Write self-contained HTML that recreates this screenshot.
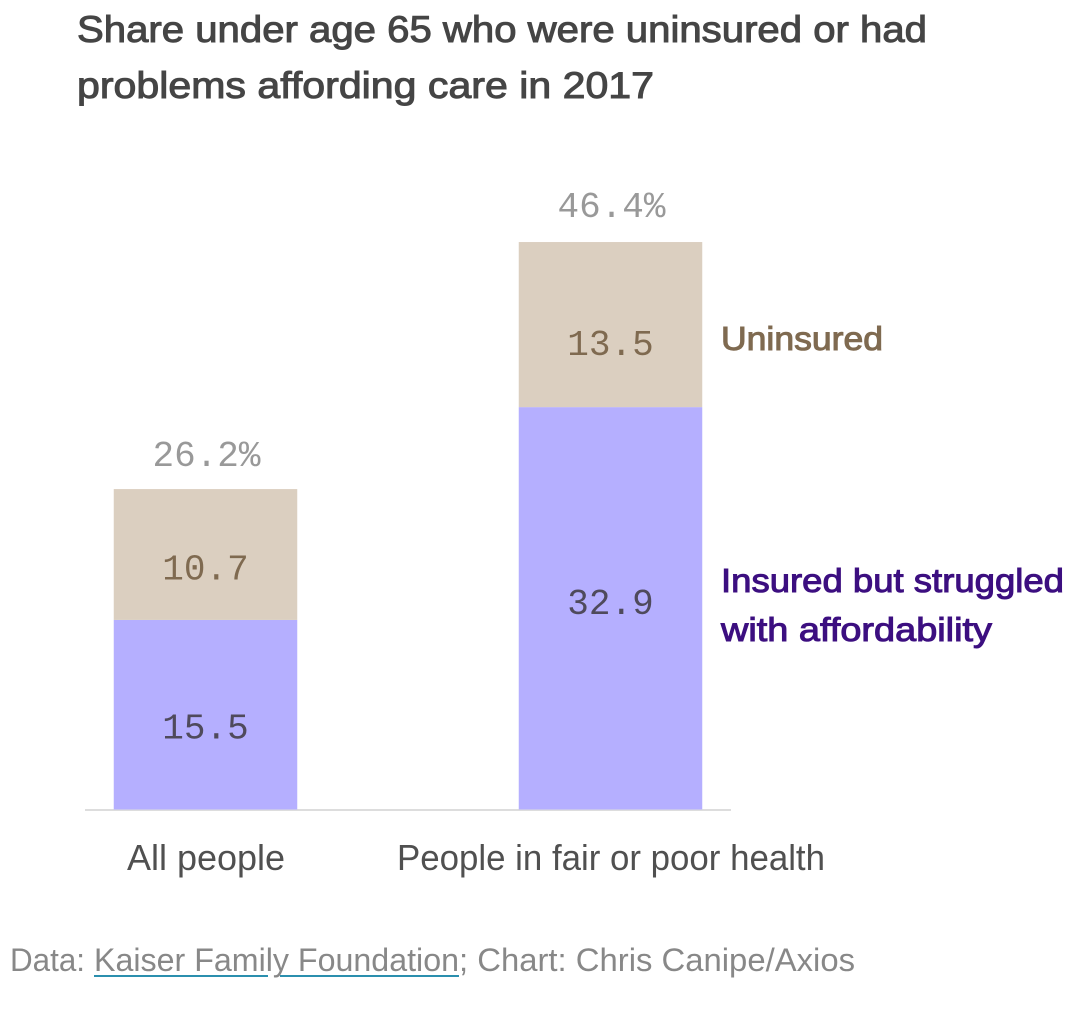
<!DOCTYPE html>
<html>
<head>
<meta charset="utf-8">
<style>
html,body{margin:0;padding:0;background:#fff;width:1084px;height:1013px;overflow:hidden}
svg{display:block}
.sans{font-family:"Liberation Sans",sans-serif}
.mono{font-family:"Liberation Mono",monospace;font-size:36px}
</style>
</head>
<body>
<svg id="chart" width="1084" height="1013" viewBox="0 0 1084 1013" xmlns="http://www.w3.org/2000/svg">
  <g class="sans" font-size="37" fill="#454545" stroke="#454545" stroke-width="1">
    <text x="77" y="42" textLength="850" lengthAdjust="spacingAndGlyphs">Share under age 65 who were uninsured or had</text>
    <text x="77" y="98" textLength="577" lengthAdjust="spacingAndGlyphs">problems affording care in 2017</text>
  </g>
  <line x1="85" x2="731" y1="810" y2="810" stroke="#dddddd" stroke-width="2"/>
  <g id="bars"></g>
  <g id="labels"></g>
  <text class="sans" x="721" y="350" font-size="33" fill="#7f6a50" stroke="#7f6a50" stroke-width="1" textLength="162" lengthAdjust="spacingAndGlyphs">Uninsured</text>
  <g class="sans" font-size="33" fill="#3c0f80" stroke="#3c0f80" stroke-width="1">
    <text x="721" y="592" textLength="343" lengthAdjust="spacingAndGlyphs">Insured but struggled</text>
    <text x="721" y="641" textLength="271" lengthAdjust="spacingAndGlyphs">with affordability</text>
  </g>
  <g class="sans" font-size="32" fill="#888888">
    <text x="10" y="971" textLength="75" lengthAdjust="spacingAndGlyphs">Data:</text>
    <text x="94" y="971" textLength="365" lengthAdjust="spacingAndGlyphs">Kaiser Family Foundation</text>
    <text x="459" y="971" textLength="396" lengthAdjust="spacingAndGlyphs">; Chart: Chris Canipe/Axios</text>
  </g>
  <g stroke="#2b8fae" stroke-width="2">
    <line x1="94" x2="268" y1="976" y2="976"/>
    <line x1="280" x2="459" y1="976" y2="976"/>
  </g>
</svg>
<script>
const categories = ["All people", "People in fair or poor health"];
const insuredValues = [15.5, 32.9];
const uninsuredValues = [10.7, 13.5];
const totalLabels = ["26.2%", "46.4%"];

const NS = "http://www.w3.org/2000/svg";
const baselineY = 809.5;
const pxPerUnit = 12.23;
const yScale = v => baselineY - v * pxPerUnit;
const xCenter = i => 205.5 + i * 405;
const barWidth = 183.5;
const barsGroup = document.getElementById("bars");
const labelsGroup = document.getElementById("labels");

function addRect(x, y, w, h, fill) {
  const r = document.createElementNS(NS, "rect");
  r.setAttribute("x", x);
  r.setAttribute("y", y);
  r.setAttribute("width", w);
  r.setAttribute("height", h);
  r.setAttribute("fill", fill);
  barsGroup.appendChild(r);
  return r;
}
function addText(parent, x, y, str, fill, cls, size) {
  const t = document.createElementNS(NS, "text");
  t.setAttribute("x", x);
  t.setAttribute("y", y);
  t.setAttribute("text-anchor", "middle");
  t.setAttribute("fill", fill);
  t.setAttribute("class", cls);
  if (size) t.setAttribute("font-size", size);
  t.textContent = str;
  parent.appendChild(t);
  return t;
}

categories.forEach((c, i) => {
  const cx = xCenter(i);
  const x0 = cx - barWidth / 2;
  const a = insuredValues[i];
  const b = uninsuredValues[i];
  const yA = yScale(a);
  const yB = yScale(a + b);
  const insuredNudge = i === 0 ? 24 : 5.5;
  const uninsuredNudge = i === 0 ? 25 : 30.5;
  const totalNudge = i === 0 ? 23 : 25;

  const r1 = addRect(x0, yA, barWidth, baselineY - yA, "#b5afff");
  
  

  const r2 = addRect(x0, yB, barWidth, yA - yB, "#dbcfc0");
  
  

  const t1 = addText(barsGroup, cx, (yA + baselineY) / 2 + insuredNudge, a.toFixed(1), "#4f4a5c", "mono");
  
  

  const t2 = addText(barsGroup, cx, (yA + yB) / 2 + uninsuredNudge, b.toFixed(1), "#7f6a50", "mono");
  
  

  const t3 = addText(barsGroup, cx + 1, yB - totalNudge, totalLabels[i], "#999999", "mono");
  
  

  const t4 = addText(labelsGroup, cx + 0.5, 870, c, "#505050", "sans", 36);
  if (i === 1) {
    t4.setAttribute("textLength", 428);
    t4.setAttribute("lengthAdjust", "spacingAndGlyphs");
  }
  
  
});
</script>
</body>
</html>
